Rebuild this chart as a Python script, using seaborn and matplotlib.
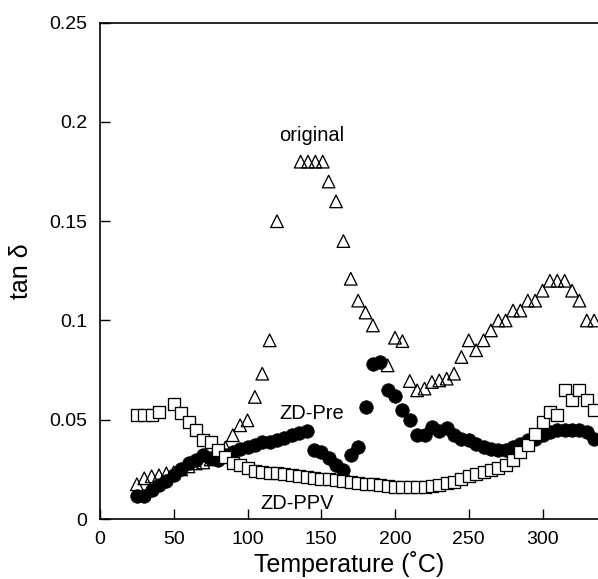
import numpy as np
import pandas as pd
import matplotlib
matplotlib.use("Agg")
import matplotlib.pyplot as plt
import seaborn as sns

# %%
### values

# original sample (open triangles)
temp_orig = [25, 30, 35, 40, 45, 50, 55, 60, 65, 70, 75, 80, 85, 90, 95, 100, 105, 110, 115, 120,
             136, 141, 146, 151, 155, 160, 165, 170, 175, 180, 185, 195, 200, 205, 210, 215, 220,
             225, 230, 235, 240, 245, 250, 255, 260, 265, 270, 275, 280, 285, 290, 295, 300, 305,
             310, 315, 320, 325, 330, 335]
tan_orig = [0.0175, 0.0205, 0.0215, 0.022, 0.023, 0.0235, 0.025, 0.0265, 0.028, 0.0285, 0.030,
            0.032, 0.036, 0.0422, 0.0472, 0.0497, 0.0615, 0.0732, 0.090, 0.150,
            0.180, 0.180, 0.180, 0.180, 0.170, 0.160, 0.140, 0.121, 0.110, 0.104, 0.0975, 0.0774,
            0.0913, 0.0896, 0.0695, 0.0648, 0.0657, 0.069, 0.0698, 0.0707, 0.0732, 0.0816, 0.090,
            0.085, 0.090, 0.095, 0.100, 0.100, 0.105, 0.105, 0.110, 0.110, 0.115, 0.120, 0.120,
            0.120, 0.115, 0.110, 0.100, 0.100]

# ZD-Pre (filled circles)
temp_pre = [25, 30, 35, 40, 45, 50, 55, 60, 65, 70, 75, 80, 85, 90, 95, 100, 105, 110, 115, 120,
            125, 130, 135, 140, 145, 150, 155, 160, 165, 170, 175, 180, 185, 190, 195, 200, 205,
            210, 215, 220, 225, 230, 235, 240, 245, 250, 255, 260, 265, 270, 275, 280, 285, 290,
            295, 300, 305, 310, 315, 320, 325, 330, 335]
tan_pre = [0.0115, 0.0115, 0.0146, 0.0171, 0.019, 0.022, 0.025, 0.028, 0.0296, 0.032, 0.0305,
           0.0296, 0.032, 0.034, 0.0355, 0.0365, 0.0375, 0.0388, 0.0388, 0.040, 0.041, 0.0425,
           0.0435, 0.0445, 0.0347, 0.0335, 0.0305, 0.027, 0.0245, 0.0322, 0.0363, 0.0562, 0.078,
           0.079, 0.0652, 0.0618, 0.0551, 0.0501, 0.0422, 0.0422, 0.0464, 0.0444, 0.0456, 0.0422,
           0.0405, 0.0397, 0.038, 0.0363, 0.0355, 0.0347, 0.0347, 0.0363, 0.038, 0.0397, 0.0405,
           0.0422, 0.0439, 0.0447, 0.0447, 0.0447, 0.0447, 0.0439, 0.0405]

# ZD-PPV (open squares)
temp_ppv = [25, 30, 35, 40, 50, 55, 60, 65, 70, 75, 80, 85, 90, 95, 100, 105, 110, 115, 120, 125,
            130, 135, 140, 145, 150, 155, 160, 165, 170, 175, 180, 185, 190, 195, 200, 205, 210,
            215, 220, 225, 230, 235, 240, 245, 250, 255, 260, 265, 270, 275, 280, 285, 290, 295,
            300, 305, 310, 315, 320, 325, 330, 335]
tan_ppv = [0.0523, 0.0526, 0.0523, 0.054, 0.058, 0.0534, 0.049, 0.045, 0.0397, 0.0389, 0.0347,
           0.0313, 0.028, 0.0271, 0.0255, 0.0243, 0.0236, 0.0233, 0.023, 0.0225, 0.022, 0.0215,
           0.021, 0.0207, 0.0204, 0.020, 0.0195, 0.019, 0.0185, 0.018, 0.0178, 0.0175, 0.017,
           0.0165, 0.0163, 0.0162, 0.0162, 0.0162, 0.0162, 0.0165, 0.017, 0.018, 0.0187, 0.020,
           0.0215, 0.0225, 0.0235, 0.0245, 0.0255, 0.0271, 0.0296, 0.0338, 0.0372, 0.0427,
           0.0489, 0.0539, 0.0523, 0.0648, 0.0598, 0.0648, 0.0598, 0.0548]

x_ticks = [0, 50, 100, 150, 200, 250, 300]
y_ticks = [0, 0.05, 0.1, 0.15, 0.2, 0.25]
y_tick_labels = ["0", "0.05", "0.1", "0.15", "0.2", "0.25"]

# %%
sns.set_style("ticks")
plt.rcParams["font.family"] = ["Liberation Sans", "DejaVu Sans"]
plt.rcParams["text.color"] = "black"
plt.rcParams["axes.labelcolor"] = "black"
plt.rcParams["xtick.color"] = "black"
plt.rcParams["ytick.color"] = "black"

fig = plt.figure(figsize=(5.98, 5.79), dpi=100)
ax = fig.add_axes([100 / 598, 1 - 519 / 579, 498 / 598, (519 - 22.7) / 579])

# triangles first, circles over them, squares on top
sns.scatterplot(x=temp_orig, y=tan_orig, ax=ax, marker="^", s=82,
                facecolor="none", edgecolor="black", linewidth=0.95)
sns.scatterplot(x=temp_pre, y=tan_pre, ax=ax, marker="o", s=95,
                color="black", edgecolor="black", linewidth=0.5)
sns.scatterplot(x=temp_ppv, y=tan_ppv, ax=ax, marker="s", s=64,
                facecolor="white", edgecolor="black", linewidth=0.95)

ax.text(143.2, 0.193, "original", fontsize=14.5, ha="center", va="center")
ax.text(143.7, 0.0531, "ZD-Pre", fontsize=14.5, ha="center", va="center")
ax.text(133.6, 0.0079, "ZD-PPV", fontsize=14.5, ha="center", va="center")

ax.set_xlim(0, 337.6)
ax.set_ylim(0, 0.25)
ax.set_xticks(x_ticks)
ax.set_yticks(y_ticks)
ax.set_yticklabels(y_tick_labels)
ax.tick_params(direction="in", length=7, width=1, labelsize=14, pad=9,
               color="black", labelcolor="black")

ax.set_xlabel("Temperature (˚C)", fontsize=18, labelpad=2)
ax.set_ylabel("tan δ", fontsize=18, labelpad=12)

ax.spines["right"].set_visible(False)
for s in ["top", "bottom", "left"]:
    ax.spines[s].set_linewidth(1.2)
    ax.spines[s].set_color("black")

plt.savefig("out.png", dpi=100)
plt.close()
